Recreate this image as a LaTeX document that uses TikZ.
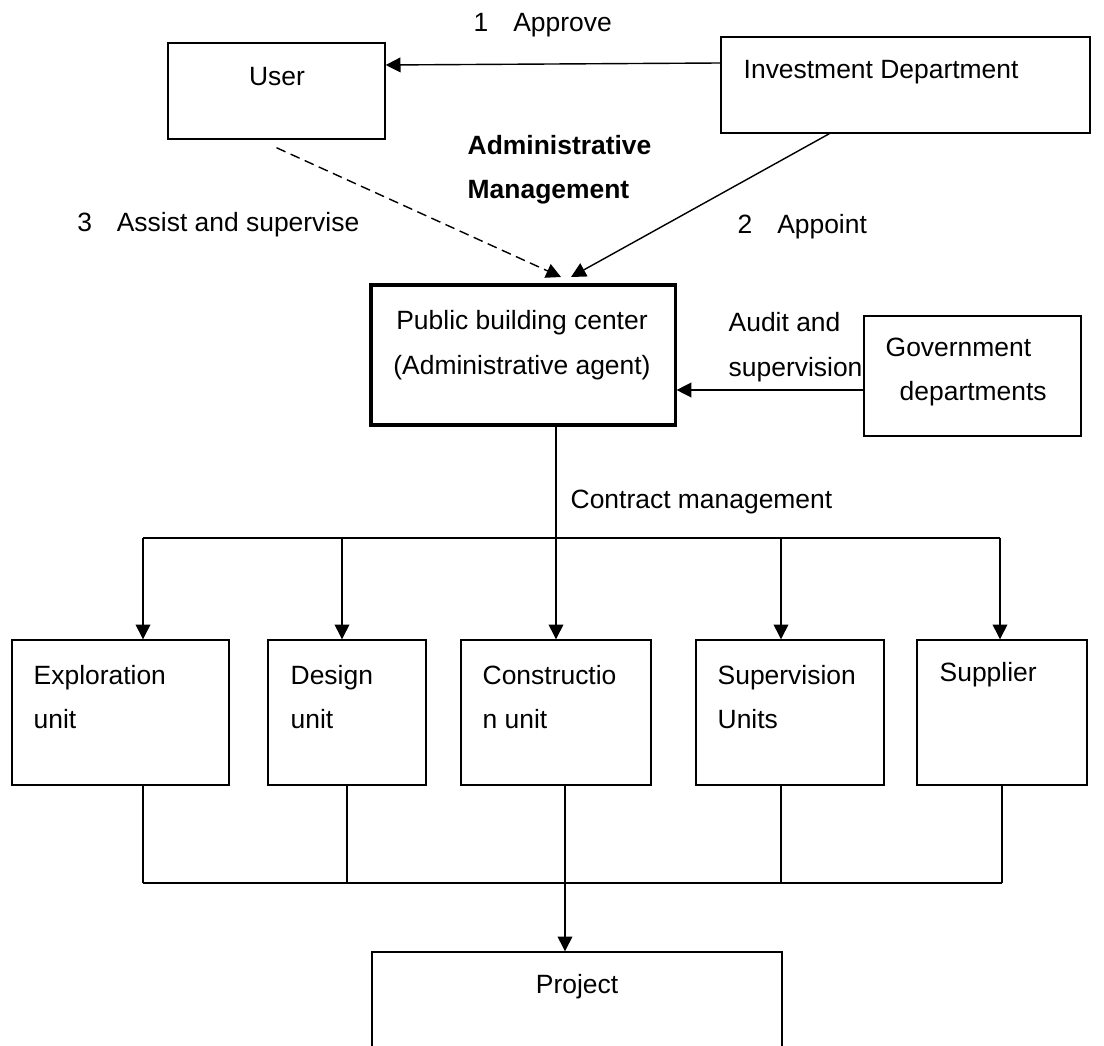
\documentclass[tikz,border=0pt]{standalone}
\usepackage{fontspec}
\setmainfont{Liberation Sans}
\usepackage{tikz}
\usetikzlibrary{arrows.meta}

\tikzset{
  box/.style={draw, rectangle, inner sep=0pt, line width=1pt},
  txt/.style={inner sep=0pt, align=left, font=\fontsize{18.8}{31.6}\selectfont},
  txtb/.style={txt, font=\fontsize{18.8}{31.6}\selectfont\bfseries},
  >={Triangle[length=10.5pt,width=10.5pt]}
}

\begin{document}
\begin{tikzpicture}[x=0.025cm, y=-0.025cm, line width=1pt]
\useasboundingbox (0,0) rectangle (1104,1045);
\clip (0,0) rectangle (1104,1045);

\node[box, minimum width=5.425cm, minimum height=2.4cm] (user) at (276.5,91) {};
\node[box, minimum width=9.225cm, minimum height=2.4cm] (invest) at (905.5,85) {};
\node[box, line width=2.2pt, minimum width=7.6cm, minimum height=3.5cm] (pbc) at (523,355) {};
\node[box, minimum width=5.425cm, minimum height=3cm] (gov) at (972.5,376) {};
\node[box, minimum width=5.425cm, minimum height=3.625cm] (expl) at (120.5,712.5) {};
\node[box, minimum width=3.95cm, minimum height=3.625cm] (design) at (347,712.5) {};
\node[box, minimum width=4.75cm, minimum height=3.625cm] (constr) at (556,712.5) {};
\node[box, minimum width=4.7cm, minimum height=3.625cm] (superv) at (790,712.5) {};
\node[box, minimum width=4.25cm, minimum height=3.625cm] (supp) at (1002,712.5) {};
\node[box, minimum width=10.25cm, minimum height=3.7cm] (project) at (577,1026) {};

\node[txt] (tuser) at (277,77) {User};
\node[txt, anchor=west] (tinvest) at (743,72) {Investment Department};
\node[txt, align=center] (tpbc) at (522,345) {Public building center\\(Administrative agent)};
\node[txt, anchor=west] (tgov) at (885,372) {Government\\\hspace{0.35cm}departments};
\node[txt, anchor=west] (taudit) at (728,347) {Audit and\\supervision};
\node[txtb, anchor=west] (tadmin) at (467,170) {Administrative\\Management};
\node[txt, anchor=west] (tapprove) at (473,25) {1\hspace{0.94em}Approve};
\node[txt, anchor=east] (tassist) at (360,225) {3\hspace{0.94em}Assist and supervise};
\node[txt, anchor=west] (tappoint) at (737,227) {2\hspace{0.94em}Appoint};
\node[txt, anchor=west] (tcontract) at (570,502) {Contract management};
\node[txt, anchor=west] (texpl) at (33,697) {Exploration\\unit};
\node[txt, anchor=west] (tdesign) at (290,697) {Design\\unit};
\node[txt, anchor=west] (tconstr) at (482,697) {Constructio\\n unit};
\node[txt, anchor=west] (tsuperv) at (717,697) {Supervision\\Units};
\node[txt, anchor=west] (tsupp) at (939,675) {Supplier};
\node[txt] (tproject) at (577,987) {Project};

\coordinate (tipa) at (561,277);
\coordinate (tipb) at (571,277);
\coordinate (ga) at ([yshift=-0.35cm]gov.west);
\coordinate (bus) at (556,538);
\coordinate (busl) at (143,538);
\coordinate (busr) at (1000,538);
\coordinate (lowl) at (143,883);
\coordinate (lowr) at (1002,883);
\coordinate (pj) at (565,883);

\draw[->] ([yshift=0.55cm]invest.west) -- ([yshift=0.65cm]user.east);
\draw[->, dash pattern=on 7pt off 4pt] ([yshift=-0.2cm]user.south) -- (tipa);
\draw[->] ([xshift=2.725cm]invest.south west) -- (tipb);
\draw[->] (ga) -- (ga -| pbc.east);
\draw (pbc.south -| bus) -- (bus);
\draw (busl) -- (busr);
\foreach \b/\t/\u in {expl/143/143, design/342/347, constr/556/565, superv/781/781, supp/1000/1002} {
  \coordinate (a) at (\t,538);
  \coordinate (c) at (\u,883);
  \draw[->] (a) -- (a |- \b.north);
  \draw (\b.south -| c) -- (c);
}
\draw (lowl) -- (lowr);
%\draw (pbc) -- (project);
\draw[->] (pj) -- (pj |- project.north);
\end{tikzpicture}
\end{document}
